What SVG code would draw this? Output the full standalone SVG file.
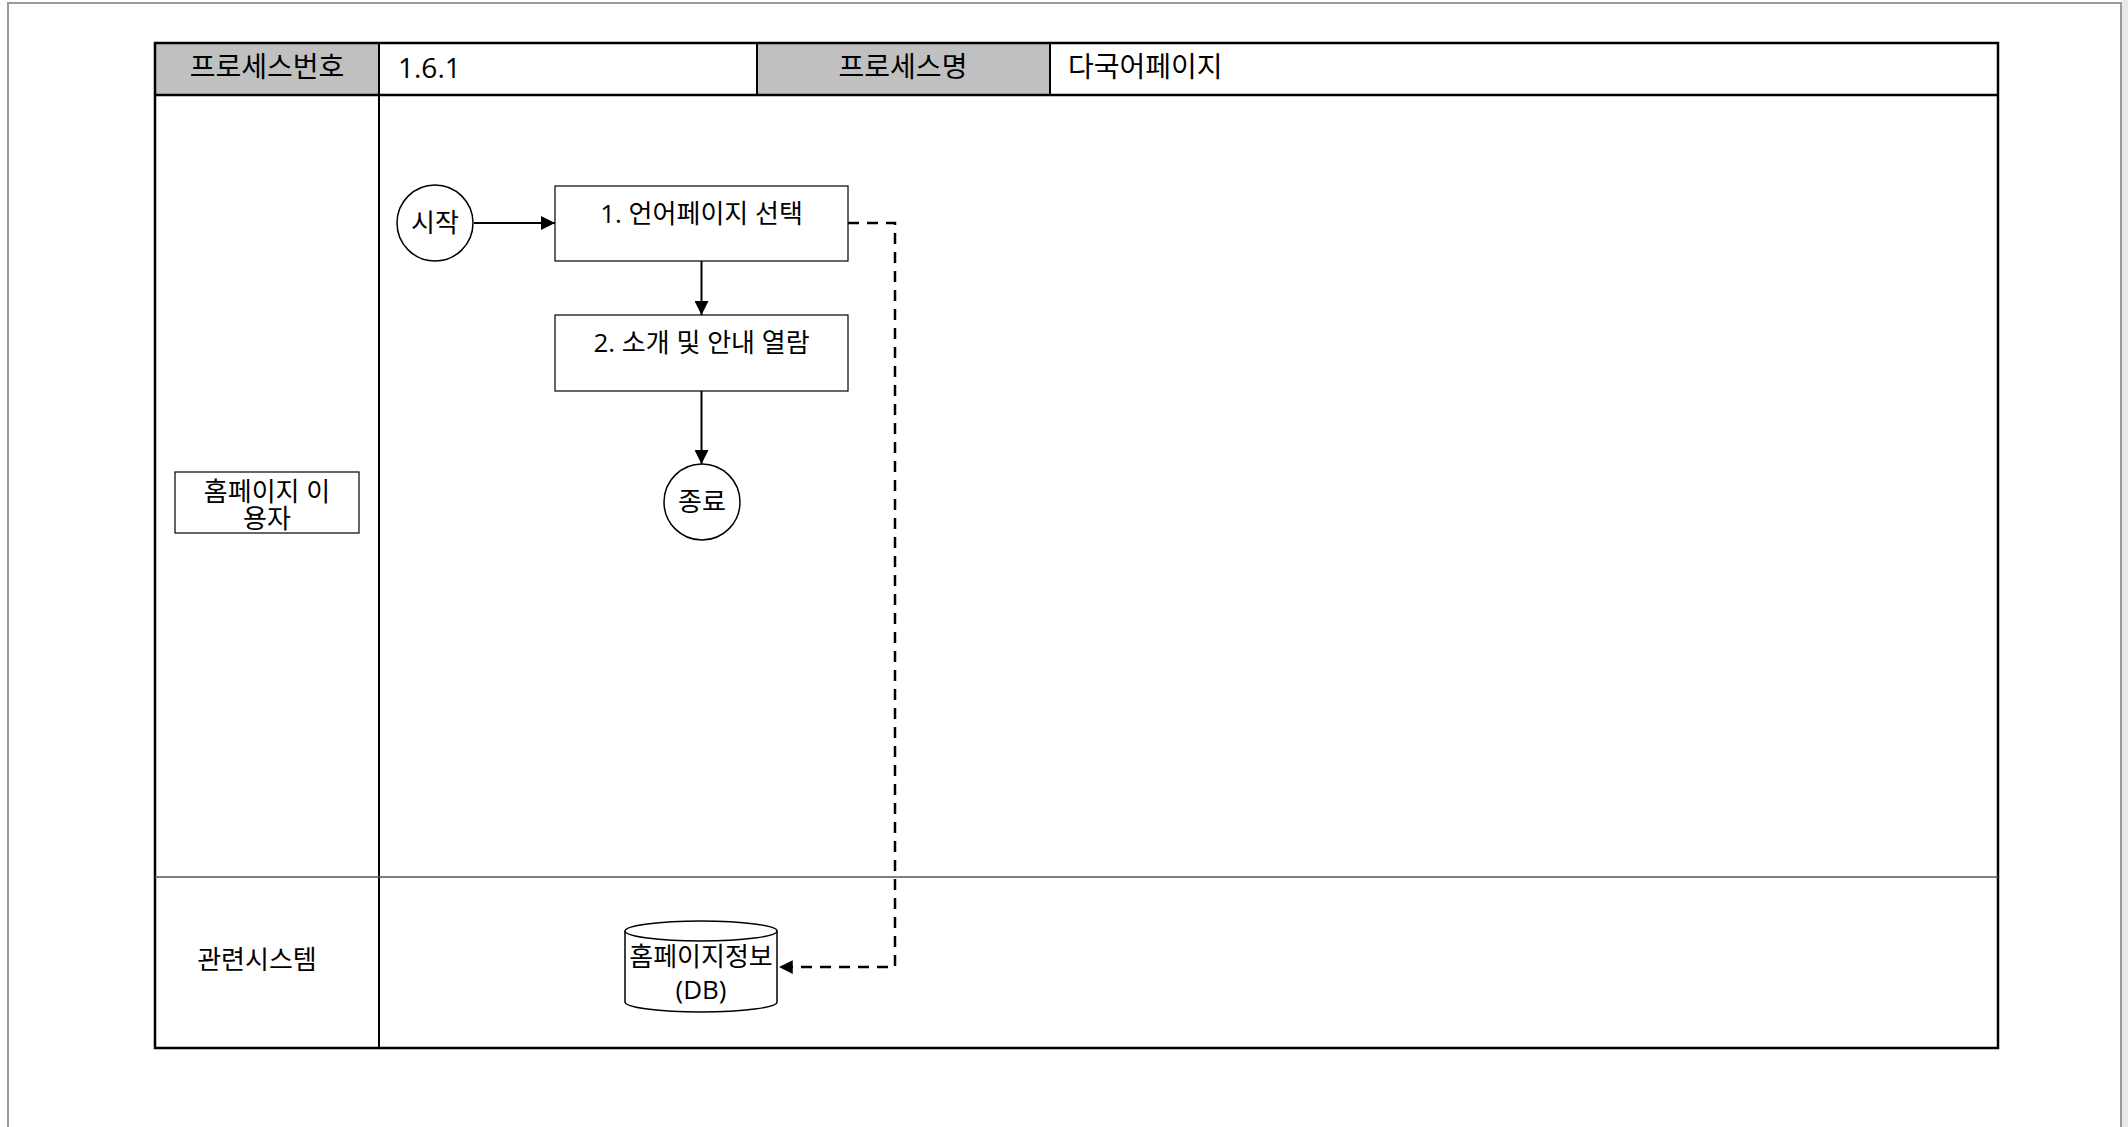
<svg xmlns="http://www.w3.org/2000/svg" width="2128" height="1127" viewBox="0 0 2128 1127">
<style>
text{font-family:"Open Sans","Noto Sans CJK KR",sans-serif;fill:#000}
.th{font-size:28px}
.tn{font-size:26px}
.node{fill:#fff;stroke:#000;stroke-width:1.2}
.hdr{fill:#c0c0c0}
.conn{fill:none;stroke:#000;stroke-width:2}
.dash{fill:none;stroke:#000;stroke-width:2.5;stroke-dasharray:11 8}
</style>
<defs>
<marker id="ah" viewBox="0 0 10 10" refX="10" refY="5" markerWidth="7" markerHeight="7" markerUnits="strokeWidth" orient="auto">
<path d="M0,0 L10,5 L0,10 z" fill="#000"/>
</marker>
<marker id="ahd" viewBox="0 0 10 10" refX="10" refY="5" markerWidth="5.5" markerHeight="5.5" markerUnits="strokeWidth" orient="auto">
<path d="M0,0 L10,5 L0,10 z" fill="#000"/>
</marker>
</defs>
<rect x="0" y="0" width="2128" height="1127" fill="#fff"/>
<rect x="2122" y="0" width="6" height="1127" fill="#e8e8e8"/>
<path d="M8,1127 V3 H2121 V1127" fill="none" stroke="#9a9a9a" stroke-width="2"/>

<g id="table">
<rect class="hdr" x="155" y="43" width="224" height="52"/>
<rect class="hdr" x="757" y="43" width="293" height="52"/>
<rect x="155" y="43" width="1843" height="1005" fill="none" stroke="#000" stroke-width="2.5"/>
<line x1="155" y1="95" x2="1998" y2="95" stroke="#000" stroke-width="2.5"/>
<line x1="379" y1="43" x2="379" y2="1048" stroke="#000" stroke-width="2"/>
<line x1="757" y1="43" x2="757" y2="95" stroke="#000" stroke-width="2"/>
<line x1="1050" y1="43" x2="1050" y2="95" stroke="#000" stroke-width="2"/>
<line x1="155" y1="877" x2="1998" y2="877" stroke="#555" stroke-width="1.5"/>
<text class="th" x="267" y="77" text-anchor="middle">프로세스번호</text>
<text class="th" x="398" y="78">1.6.1</text>
<text class="th" x="903" y="77" text-anchor="middle">프로세스명</text>
<text class="th" x="1068" y="77">다국어페이지</text>
</g>

<g id="lane-user">
<rect class="node" x="175" y="472" width="184" height="61"/>
<text class="tn" text-anchor="middle"><tspan x="267" y="501">홈페이지 이</tspan><tspan x="267" y="528">용자</tspan></text>
</g>

<g id="lane-system">
<text class="tn" x="257" y="969" text-anchor="middle">관련시스템</text>
</g>

<g id="connectors">
<line class="conn" x1="474" y1="223" x2="555" y2="223" marker-end="url(#ah)"/>
<line class="conn" x1="701.5" y1="261" x2="701.5" y2="315" marker-end="url(#ah)"/>
<line class="conn" x1="701.5" y1="391" x2="701.5" y2="464" marker-end="url(#ah)"/>
<path class="dash" d="M848,223 H895 V967 H779" marker-end="url(#ahd)"/>
</g>

<g id="start">
<circle cx="435" cy="223" r="38" fill="#fff" stroke="#000" stroke-width="1.5"/>
<text class="tn" x="435" y="232" text-anchor="middle">시작</text>
</g>

<g id="step1">
<rect class="node" x="555" y="186" width="293" height="75"/>
<text class="tn" x="701.5" y="223" text-anchor="middle">1. 언어페이지 선택</text>
</g>

<g id="step2">
<rect class="node" x="555" y="315" width="293" height="76"/>
<text class="tn" x="701.5" y="352" text-anchor="middle">2. 소개 및 안내 열람</text>
</g>

<g id="end">
<ellipse cx="702" cy="502" rx="38" ry="38" fill="#fff" stroke="#000" stroke-width="1.5"/>
<text class="tn" x="702" y="511" text-anchor="middle">종료</text>
</g>

<g id="db">
<path d="M625,931 V1002 A76,10 0 0 0 777,1002 V931" fill="#fff" stroke="#000" stroke-width="1.5"/>
<ellipse cx="701" cy="931" rx="76" ry="10" fill="#fff" stroke="#000" stroke-width="1.5"/>
<text class="tn" x="701" y="966" text-anchor="middle">홈페이지정보</text>
<text class="tn" x="701" y="999" text-anchor="middle">(DB)</text>
</g>
</svg>
